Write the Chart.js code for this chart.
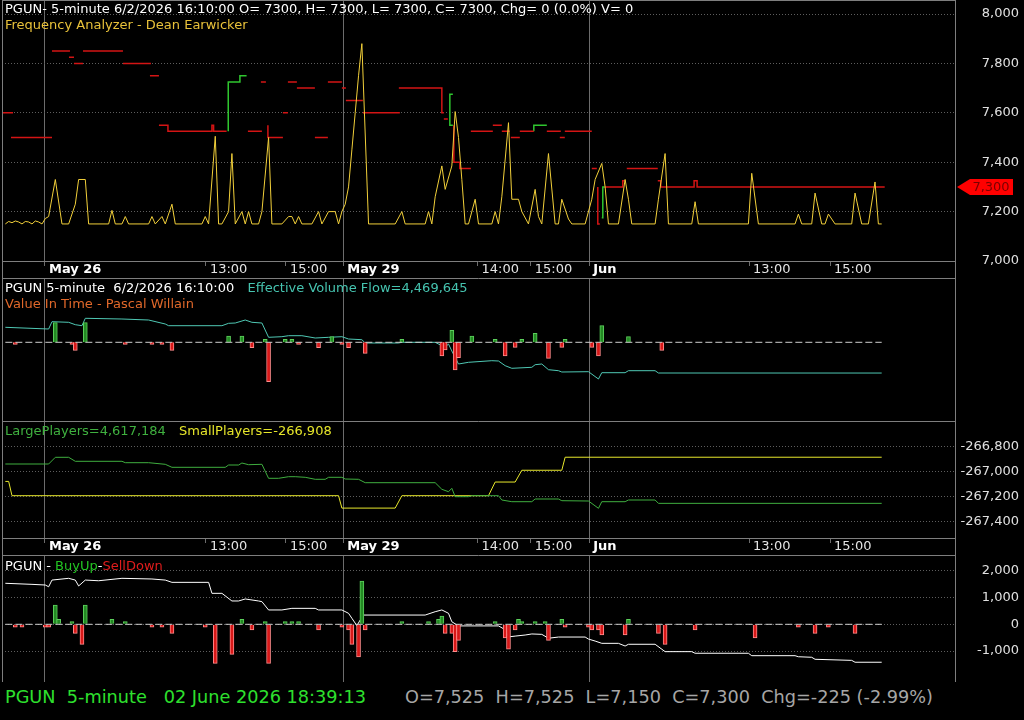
<!DOCTYPE html>
<html>
<head>
<meta charset="utf-8">
<script src="https://cdn.jsdelivr.net/npm/chart.js@4.4.1/dist/chart.umd.min.js"></script>
<style>
  html, body { margin: 0; padding: 0; background: #000; }
  body { width: 1024px; height: 720px; position: relative; overflow: hidden; font-family: 'DejaVu Sans', sans-serif; }
  .pane { position: absolute; left: 0; width: 1024px; }
  .pane canvas { display: block; }
  .txt { position: absolute; font-size: 13px; line-height: 16px; white-space: pre; }
  .status { position: absolute; top: 686px; font-size: 17.7px; line-height: 22px; white-space: pre; }
</style>
</head>
<body>
<div class="pane" style="top:0;height:278px"><canvas id="c1" width="1024" height="278"></canvas></div>
<div class="pane" style="top:278px;height:143px"><canvas id="c2" width="1024" height="143"></canvas></div>
<div class="pane" style="top:421px;height:134px"><canvas id="c3" width="1024" height="134"></canvas></div>
<div class="pane" style="top:555px;height:127px"><canvas id="c4" width="1024" height="127"></canvas></div>

<div class="txt" style="left:5px;top:1px;color:#ffffff">PGUN- 5-minute 6/2/2026 16:10:00 O= 7300, H= 7300, L= 7300, C= 7300, Chg= 0 (0.0%) V= 0</div>
<div class="txt" style="left:5px;top:17px;color:#e9c23a">Frequency Analyzer - Dean Earwicker</div>

<div class="txt" style="left:5px;top:280px"><span style="color:#ffffff">PGUN 5-minute  6/2/2026 16:10:00  </span><span style="color:#46c4b0;margin-left:5px">Effective Volume Flow=4,469,645</span></div>
<div class="txt" style="left:5px;top:296px;color:#e0682a">Value In Time - Pascal Willain</div>

<div class="txt" style="left:5px;top:423px;color:#3fb03f">LargePlayers=4,617,184</div>
<div class="txt" style="left:179px;top:423px;color:#e6e62a">SmallPlayers=-266,908</div>

<div class="txt" style="left:5px;top:558px"><span style="color:#ffffff">PGUN - </span><span style="color:#22c422">BuyUp</span><span style="color:#ffffff">-</span><span style="color:#e01c1c">SellDown</span></div>

<div class="status" style="left:5px;color:#2ee02e">PGUN  5-minute   02 June 2026 18:39:13</div>
<div class="status" style="left:405px;color:#a6a6a6">O=7,525  H=7,525  L=7,150  C=7,300  Chg=-225 (-2.99%)</div>

<script>
const FONT = "'DejaVu Sans', sans-serif";

// shared time axis: 5-minute bar index
const xTickIdx = [12.9, 61.2, 85.2, 102.4, 142.7, 158.7, 176.2, 224.2, 248.5];
const xTickLabels = ['May 26', '13:00', '15:00', 'May 29', '14:00', '15:00', 'Jun', '13:00', '15:00'];
const dayTickIdx = [12.9, 102.4, 176.2];

// panel 1 - price / frequency analyzer
const priceTicks = [7000, 7200, 7400, 7600, 7800, 8000];
const lastPrice = 7300;
const freqIdx = [
  1, 2, 3, 4, 5, 6, 7, 8, 9, 10, 11, 12, 13, 14,
  16, 18, 20, 22, 23, 25, 26,
  32, 33, 34, 36, 37, 38,
  44, 45, 46, 48, 49, 51, 52,
  60, 61, 62, 64, 65, 66, 68, 69, 70,
  72, 73, 74, 75, 77, 78, 80, 81,
  84, 86, 87, 88, 89, 90,
  93, 95, 96, 98, 100, 101, 102, 103, 104, 105, 106, 107, 108, 110,
  118, 120, 121, 127, 128, 129, 130, 132, 133, 135, 136, 137, 138, 139, 140,
  142, 143, 147, 148, 149, 150, 152, 153, 155, 156, 158, 160, 161, 162,
  164, 166, 167, 168, 170, 171, 175, 177, 178, 180, 181, 182,
  185, 187, 188, 189, 196, 197, 199, 200,
  207, 208, 209, 224, 225, 227,
  238, 239, 240, 243, 244, 246, 247, 248, 250,
  255, 256, 258, 260, 262, 263, 264
];
const freqVal = [
  7150, 7160, 7155, 7162, 7158, 7150, 7160, 7158, 7150, 7162, 7158, 7150, 7172, 7180,
  7330, 7150, 7150, 7230, 7330, 7330, 7150,
  7150, 7205, 7150, 7150, 7180, 7150,
  7150, 7180, 7150, 7180, 7150, 7230, 7150,
  7150, 7180, 7150, 7505, 7150, 7150, 7200, 7435, 7150,
  7200, 7150, 7200, 7150, 7150, 7200, 7500, 7150,
  7150, 7180, 7180, 7150, 7180, 7150,
  7150, 7200, 7150, 7200, 7200, 7150, 7200, 7230, 7300, 7450, 7600, 7750, 7880, 7150,
  7150, 7200, 7150, 7150, 7200, 7150, 7260, 7385, 7290, 7385, 7605, 7500, 7330, 7150, 7150,
  7250, 7150, 7150, 7200, 7150, 7260, 7560, 7250, 7250, 7200, 7150, 7290, 7180, 7150,
  7435, 7150, 7150, 7250, 7170, 7150, 7150, 7250, 7330, 7395, 7300, 7150,
  7150, 7330, 7250, 7150, 7150, 7250, 7435, 7150,
  7150, 7240, 7150, 7150, 7355, 7150,
  7150, 7190, 7150, 7150, 7275, 7150, 7150, 7190, 7150,
  7150, 7275, 7150, 7150, 7320, 7150, 7150
];
// level steps (null = break between segments)
const lvlDownIdx = [
  0.3, 3.3, null, 2.7, 15, null, 15, 20.4, null, 20.1, 21.6, null, 21.6, 24.3, null,
  24.3, 36.3, null, 36.3, 44.7, null, 44.4, 47.1, null,
  47.1, 49.8, 49.8, 63, 63, 63.5, 63.5, 67.4, null,
  73.8, 78, null, 77.7, 79.2, null, 79.8, 79.8, 84.3, null, 84.3, 85.8, null,
  85.8, 88.5, null, 88.5, 93.9, null, 93.9, 97.8, null, 97.8, 102, null,
  102, 103.2, null, 103.2, 108.3, null, 108.3, 119.4, null,
  119.1, 132, 132, 132.6, null, 132.6, 133.8, null,
  135.6, 135.6, 137.4, 137.4, 140.7, null,
  140.7, 147.3, null, 147.3, 150, null, 150, 152.4, null, 152.7, 155.4, null,
  155.4, 159.6, null, 163.5, 167.7, null, 167.4, 168.9, null, 168.9, 177, null,
  177, 178.5, null, 178.8, 178.8, 179.4, null,
  180.9, 186.3, 186.3, 186.9, null, 187.5, 196.8, null,
  196.8, 197.7, 197.7, 207.7, 207.7, 208.6, 208.6, 264.9
];
const lvlDownVal = [
  7600, 7600, null, 7500, 7500, null, 7850, 7850, null, 7825, 7825, null, 7800, 7800, null,
  7850, 7850, null, 7800, 7800, null, 7750, 7750, null,
  7550, 7550, 7525, 7525, 7550, 7550, 7525, 7525, null,
  7525, 7525, null, 7725, 7725, null, 7550, 7500, 7500, null, 7600, 7600, null,
  7725, 7725, null, 7700, 7700, null, 7500, 7500, null, 7725, 7725, null,
  7700, 7700, null, 7650, 7650, null, 7600, 7600, null,
  7700, 7700, 7600, 7600, null, 7575, 7575, null,
  7550, 7400, 7400, 7375, 7375, null,
  7525, 7525, null, 7550, 7550, null, 7525, 7525, null, 7500, 7500, null,
  7525, 7525, null, 7525, 7525, null, 7500, 7500, null, 7525, 7525, null,
  7375, 7375, null, 7300, 7150, 7150, null,
  7300, 7300, 7325, 7325, null, 7375, 7375, null,
  7325, 7325, 7300, 7300, 7325, 7325, 7300, 7300
];
const lvlUpIdx = [67.9, 67.9, 71.4, 71.4, 73.4, null, 135.3, 134.4, 134.4, 135.3, null, 159.6, 159.6, 163.5, null, 180, 180.3, 180.3, 180.9];
const lvlUpVal = [7525, 7725, 7725, 7750, 7750, null, 7550, 7550, 7675, 7675, null, 7525, 7550, 7550, null, 7175, 7175, 7300, 7300];

// panel 2 - effective volume flow / value in time
const evfIdx = [1, 14, 15, 20, 22, 24, 25, 36, 44, 49, 50, 66, 68, 70, 73, 75, 78, 80, 84, 86,
  90, 94, 98, 102, 104, 108, 109, 119, 120, 130, 132, 133, 134, 135, 137, 140, 147, 149, 151, 153,
  159, 160, 162, 164, 167, 168, 176, 179, 180, 187, 188, 196, 197, 264];
const evfVal = [4927000, 4910000, 4983000, 4977000, 4953000, 4943000, 5017000, 5010000, 5000000, 4960000,
  4943000, 4943000, 4967000, 4970000, 5000000, 4977000, 4970000, 4827000, 4833000, 4843000,
  4843000, 4820000, 4827000, 4833000, 4810000, 4803000, 4770000, 4770000, 4777000, 4777000,
  4743000, 4730000, 4760000, 4690000, 4560000, 4577000, 4593000, 4590000, 4543000, 4517000,
  4527000, 4553000, 4560000, 4503000, 4493000, 4480000, 4483000, 4410000, 4473000, 4473000,
  4493000, 4493000, 4470000, 4469645];
const vitIdx = [4, 16, 21, 22, 25, 37, 45, 48, 51, 68, 72, 75, 79, 80, 85, 87, 89, 95, 99, 102,
  104, 109, 120, 132, 133, 135, 136, 137, 141, 148, 151, 154, 156, 160, 164, 168, 169, 177, 179, 180, 188, 198];
const vitVal = [-2000, 19600, -2000, -8000, 19600, -2000, -2000, -2000, -8000, 6300,
  6300, -5300, 3000, -39300, 3000, 3000, -2000, -5300, 5700, -2000,
  -5300, -11000, 3000, -13700, -7700, 12000, -27700, -15300, 6300, 3000,
  -13700, -5000, 3000, 9000, -16000, -5000, 3000, -5000, -13700, 16700, 5700, -8000];

// panel 3 - large / small players
const playerTicks = [-266800, -267000, -267200, -267400];
const lpIdx = [1, 14, 16, 20, 22, 36, 37, 44, 49, 51, 67, 68, 71, 72, 74, 78, 80, 83, 86, 88,
  91, 94, 97, 98, 102, 103, 107, 109, 130, 132, 134, 135, 136, 140, 141, 149, 150, 153, 159, 160,
  167, 168, 176, 179, 180, 187, 188, 196, 197, 264];
const lpVal = [4932000, 4932000, 4985600, 4985600, 4953600, 4953600, 4942400, 4942400, 4929600, 4905600,
  4905600, 4924000, 4924000, 4940000, 4926400, 4929600, 4817600, 4817600, 4830400, 4830400,
  4825600, 4809600, 4809600, 4825600, 4825600, 4812000, 4809600, 4782400, 4782400, 4729600,
  4710400, 4737600, 4670400, 4670400, 4678400, 4678400, 4644000, 4630400, 4630400, 4652000,
  4652000, 4638400, 4636000, 4577600, 4630400, 4630400, 4644000, 4644000, 4617184, 4617184];
const spIdx = [1, 2, 3, 101, 102, 118, 120, 146, 148, 154, 156, 168, 169, 264];
const spVal = [-267080, -267080, -267195, -267195, -267295, -267295, -267195, -267195, -267085, -267085, -266990, -266990, -266885, -266885];

// panel 4 - BuyUp / SellDown
const buTicks = [2000, 1000, 0, -1000];
const buIdx = [4, 6, 13, 14, 16, 17, 21, 22, 24, 25, 33, 37, 45, 48, 51, 61, 64, 69, 72, 75,
  79, 80, 85, 87, 89, 95, 102, 104, 105, 107, 108, 109, 120, 128, 131, 132, 133, 135, 136, 137,
  148, 151, 152, 154, 155, 156, 160, 163, 164, 168, 169, 176, 177, 179, 180, 187, 188, 197, 199, 208,
  226, 239, 244, 248, 256];
const buVal = [-110, -110, -110, -110, 720, 190, 100, -340, -750, 720, 190, 100, -110, -110, -340, -110, -1455, -1120, 190, -210,
  100, -1455, 100, 100, 100, -210, -110, -210, -750, -1220, 1615, -210, 100, 100, 190, 310, -340, -340, -1020, -600,
  100, -510, -930, -210, 190, 100, 100, 100, -600, 190, -110, -110, -210, -210, -400, -400, 190, -340, -750, -210,
  -510, -110, -340, -110, -340];
const buLineIdx = [1, 9, 13, 14, 15, 20, 22, 23, 25, 29, 36, 45, 49, 51, 62, 63, 66, 69, 71, 73,
  77, 78, 80, 84, 87, 94, 95, 102, 104, 105, 106.5, 107.5, 108.5, 127, 130, 132, 134, 135, 137, 149,
  151, 152, 154, 157, 159, 162, 164, 167, 175, 176, 178, 180, 185, 187, 188, 196, 199, 207, 208, 224,
  225, 238, 239, 243, 244, 255, 256, 264];
const buLineVal = [1530, 1490, 1465, 1400, 1650, 1715, 1650, 1430, 1650, 1625, 1715, 1690, 1650, 1565, 1565, 1155, 1155, 870, 870, 945,
  870, 845, 535, 535, 595, 595, 535, 535, 410, 225, -50, 160, 345, 345, 470, 535, 410, 95, -60, -60,
  -200, -470, -440, -400, -360, -375, -520, -475, -475, -550, -625, -710, -710, -810, -745, -745, -1020, -1020, -1080, -1080,
  -1170, -1170, -1210, -1230, -1305, -1345, -1415, -1415];

const zeroIdx = [1, 264];
const zeroVal = [0, 0];

// ---------- helpers ----------
function pts(xs, ys) {
  return xs.map((x, i) => ({ x: x === null ? xs[i - 1] : x, y: ys[i] }));
}
const isDay = v => dayTickIdx.includes(v);

function xScale(labels) {
  return {
    type: 'linear', min: 0, max: 286, offset: false,
    afterBuildTicks: s => { s.ticks = xTickIdx.map(v => ({ value: v })); },
    afterFit: s => { s.height = labels ? 17 : 0; s.paddingLeft = 0; s.paddingRight = 0; },
    border: { display: false },
    grid: {
      offset: false,
      color: c => (c.tick && isDay(c.tick.value)) ? '#6c6c6c' : 'rgba(0,0,0,0)',
      tickColor: '#6c6c6c', tickLength: 5, drawTicks: labels
    },
    ticks: {
      display: labels, autoSkip: false, maxRotation: 0, align: 'start', padding: -4, labelOffset: 4,
      callback: (v, i) => xTickLabels[i],
      color: c => isDay(xTickIdx[c.index]) ? '#ffffff' : '#e4e4e4',
      font: c => ({ family: FONT, size: 13, weight: isDay(xTickIdx[c.index]) ? 'bold' : 'normal' })
    }
  };
}

function yRight(min, max, tickArr) {
  return {
    type: 'linear', position: 'right', min, max,
    afterBuildTicks: s => { s.ticks = tickArr.map(v => ({ value: v })); },
    afterFit: s => { s.width = 64; s.paddingTop = 0; s.paddingBottom = 0; },
    border: { display: false, dash: [1, 2] },
    grid: { color: '#5e5e5e', drawTicks: false },
    ticks: {
      color: '#e0e0e0', crossAlign: 'far', padding: 0, font: { family: FONT, size: 13 },
      callback: v => v.toLocaleString('en-US')
    }
  };
}

function blankRight(min, max) {
  return {
    type: 'linear', position: 'right', min, max,
    afterFit: s => { s.width = 64; s.paddingTop = 0; s.paddingBottom = 0; },
    border: { display: false }, grid: { display: false }, ticks: { display: false }
  };
}

function baseOptions(scales) {
  return {
    responsive: false, animation: false, events: [],
    layout: { padding: { left: 2, right: 5, top: 0, bottom: 0 } },
    plugins: { legend: { display: false }, tooltip: { enabled: false } },
    elements: { point: { radius: 0 }, line: { tension: 0 } },
    scales
  };
}

const framePlugin = {
  id: 'frame',
  afterDraw(chart) {
    const { ctx, chartArea: a } = chart;
    ctx.save();
    ctx.strokeStyle = '#7e7e7e';
    ctx.lineWidth = 1;
    ctx.beginPath();
    ctx.moveTo(a.left + 0.5, 0); ctx.lineTo(a.left + 0.5, chart.height);
    ctx.moveTo(a.right + 0.5, 0); ctx.lineTo(a.right + 0.5, chart.height);
    ctx.moveTo(a.left, a.top + 0.5); ctx.lineTo(a.right, a.top + 0.5);
    ctx.moveTo(a.left, a.bottom + 0.5); ctx.lineTo(a.right, a.bottom + 0.5);
    ctx.stroke();
    ctx.restore();
  }
};

const priceTag = {
  id: 'priceTag',
  afterDraw(chart) {
    const ctx = chart.ctx;
    const y = Math.round(chart.scales.y.getPixelForValue(lastPrice));
    const x0 = chart.chartArea.right + 2;
    ctx.save();
    ctx.fillStyle = '#ff0000';
    ctx.beginPath();
    ctx.moveTo(x0, y);
    ctx.lineTo(x0 + 13, y - 8);
    ctx.lineTo(x0 + 56, y - 8);
    ctx.lineTo(x0 + 56, y + 8);
    ctx.lineTo(x0 + 13, y + 8);
    ctx.closePath();
    ctx.fill();
    ctx.fillStyle = '#7a0000';
    ctx.font = '13px ' + FONT;
    ctx.textAlign = 'center';
    ctx.textBaseline = 'middle';
    ctx.fillText(lastPrice.toLocaleString('en-US'), x0 + 34, y + 1);
    ctx.restore();
  }
};

const barFill = c => (c.raw && c.raw.y < 0) ? '#d81818' : '#238a23';
const barEdge = c => (c.raw && c.raw.y < 0) ? '#ff8c8c' : '#5ccf5c';

// ---------- panel 1 ----------
new Chart(document.getElementById('c1'), {
  type: 'line',
  data: {
    datasets: [
      { data: pts(freqIdx, freqVal), borderColor: '#f2d03a', borderWidth: 1 },
      { data: pts(lvlDownIdx, lvlDownVal), borderColor: '#d41414', borderWidth: 1.5 },
      { data: pts(lvlUpIdx, lvlUpVal), borderColor: '#2fc62f', borderWidth: 1.5 }
    ]
  },
  options: baseOptions({ x: xScale(true), y: yRight(7000, 8056.7, priceTicks) }),
  plugins: [framePlugin, priceTag]
});

// ---------- panel 2 ----------
new Chart(document.getElementById('c2'), {
  type: 'bar',
  data: {
    datasets: [
      { type: 'line', data: pts(zeroIdx, zeroVal), yAxisID: 'yv', borderColor: '#cfcfcf', borderWidth: 1, borderDash: [7, 3] },
      { type: 'bar', data: pts(vitIdx, vitVal), yAxisID: 'yv', backgroundColor: barFill, borderColor: barEdge, borderWidth: 1, barThickness: 4 },
      { type: 'line', data: pts(evfIdx, evfVal), yAxisID: 'ye', borderColor: '#4fc8b4', borderWidth: 1 }
    ]
  },
  options: baseOptions({
    x: xScale(false),
    yv: blankRight(-78700, 64300),
    ye: { type: 'linear', display: false, min: 3990000, max: 5420000 }
  }),
  plugins: [framePlugin]
});

// ---------- panel 3 ----------
new Chart(document.getElementById('c3'), {
  type: 'line',
  data: {
    datasets: [
      { data: pts(lpIdx, lpVal), yAxisID: 'yL', borderColor: '#3fae3f', borderWidth: 1 },
      { data: pts(spIdx, spVal), yAxisID: 'y', borderColor: '#e8e82c', borderWidth: 1 }
    ]
  },
  options: baseOptions({
    x: xScale(true),
    y: yRight(-267536, -266593, playerTicks),
    yL: { type: 'linear', display: false, min: 4340000, max: 5276000 }
  }),
  plugins: [framePlugin]
});

// ---------- panel 4 ----------
new Chart(document.getElementById('c4'), {
  type: 'bar',
  data: {
    datasets: [
      { type: 'line', data: pts(zeroIdx, zeroVal), borderColor: '#cfcfcf', borderWidth: 1, borderDash: [7, 3] },
      { type: 'bar', data: pts(buIdx, buVal), backgroundColor: barFill, borderColor: barEdge, borderWidth: 1, barThickness: 4 },
      { type: 'line', data: pts(buLineIdx, buLineVal), borderColor: '#ffffff', borderWidth: 1 }
    ]
  },
  options: baseOptions({ x: xScale(false), y: yRight(-2152, 2585, buTicks) }),
  plugins: [framePlugin]
});
</script>
</body>
</html>
